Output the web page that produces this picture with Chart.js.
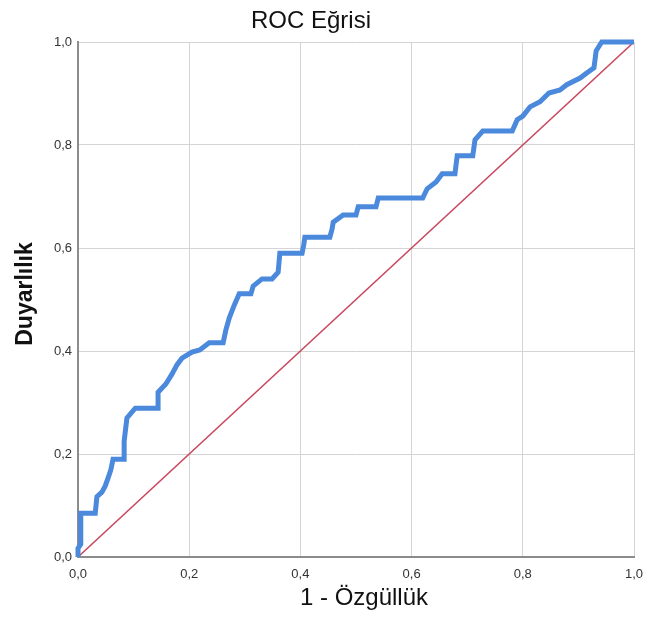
<!DOCTYPE html>
<html>
<head>
<meta charset="utf-8">
<script src="https://cdn.jsdelivr.net/npm/chart.js@4.4.1/dist/chart.umd.min.js"></script>
<style>
  html, body { margin: 0; padding: 0; background: #ffffff; }
  #wrap { width: 649px; height: 619px; }
</style>
</head>
<body>
<div id="wrap"><canvas id="roc" width="649" height="619"></canvas></div>
<script>
// ROC curve vertices: false positive rate (1 - specificity) and sensitivity
const fpr = [0, 0, 0.005, 0.005, 0.031, 0.034, 0.043, 0.049, 0.054, 0.059, 0.063, 0.083, 0.083, 0.088,
  0.103, 0.144, 0.144, 0.158, 0.169, 0.178, 0.187, 0.205, 0.219, 0.236, 0.261, 0.266, 0.272, 0.281,
  0.290, 0.311, 0.315, 0.331, 0.349, 0.360, 0.363, 0.403, 0.406, 0.408, 0.453, 0.457, 0.459, 0.477,
  0.500, 0.504, 0.536, 0.540, 0.620, 0.628, 0.644, 0.655, 0.678, 0.682, 0.710, 0.714, 0.728, 0.781,
  0.790, 0.800, 0.813, 0.831, 0.847, 0.867, 0.879, 0.903, 0.915, 0.928, 0.932, 0.942, 1.0];
const tpr = [0, 0.017, 0.025, 0.085, 0.085, 0.117, 0.126, 0.138, 0.153, 0.169, 0.190, 0.190, 0.225, 0.270,
  0.289, 0.289, 0.320, 0.336, 0.355, 0.373, 0.386, 0.398, 0.402, 0.416, 0.416, 0.441, 0.464, 0.489,
  0.511, 0.511, 0.526, 0.540, 0.540, 0.553, 0.590, 0.590, 0.606, 0.621, 0.621, 0.637, 0.650, 0.664,
  0.664, 0.680, 0.680, 0.697, 0.697, 0.715, 0.728, 0.744, 0.744, 0.779, 0.779, 0.810, 0.827, 0.827,
  0.849, 0.856, 0.874, 0.884, 0.901, 0.907, 0.917, 0.930, 0.940, 0.950, 0.983, 1.0, 1.0];
// Reference line (chance)
const refX = [0, 1];
const refY = [0, 1];
const tickValues = [0, 0.2, 0.4, 0.6, 0.8, 1.0];

const chartTitle = 'ROC Eğrisi';
const xTitle = '1 - Özgüllük';
const yTitle = 'Duyarlılık';

const curvePts = fpr.map((v, i) => ({ x: v, y: tpr[i] }));
const refPts = refX.map((v, i) => ({ x: v, y: refY[i] }));

const fmt = v => Number(v).toFixed(1).replace('.', ',');

const titlesPlugin = {
  id: 'titles',
  afterDraw(chart) {
    const { ctx, chartArea } = chart;
    ctx.save();
    ctx.fillStyle = '#111111';
    ctx.textAlign = 'center';
    ctx.textBaseline = 'middle';
    ctx.font = '24px "Liberation Sans", Arial, sans-serif';
    ctx.fillText(chartTitle, 311, 21);
    ctx.fillText(xTitle, (chartArea.left + chartArea.right) / 2 + 8, 598);
    ctx.translate(26, 294);
    ctx.rotate(-Math.PI / 2);
    ctx.font = 'bold 23px "Liberation Sans", Arial, sans-serif';
    ctx.fillText(yTitle, 0, 0);
    ctx.restore();
  }
};

new Chart(document.getElementById('roc'), {
  type: 'line',
  data: {
    datasets: [
      {
        data: curvePts,
        borderColor: '#4B89DC',
        borderWidth: 5,
        pointRadius: 0,
        tension: 0,
        clip: false,
        order: 1
      },
      {
        data: refPts,
        borderColor: '#C9485F',
        borderWidth: 1.5,
        pointRadius: 0,
        tension: 0,
        order: 2
      }
    ]
  },
  options: {
    responsive: false,
    animation: false,
    layout: { padding: { left: 0, right: 15, top: 42, bottom: 0 } },
    plugins: {
      legend: { display: false },
      tooltip: { enabled: false },
      title: { display: false }
    },
    scales: {
      x: {
        type: 'linear',
        min: 0,
        max: 1,
        afterFit(scale) {
          scale.height = 62;
          scale.paddingLeft = 0;
          scale.paddingRight = 0;
        },
        afterBuildTicks(scale) { scale.ticks = tickValues.map(v => ({ value: v })); },
        ticks: {
          callback: v => fmt(v),
          color: '#333333',
          font: { family: '"Liberation Sans", Arial, sans-serif', size: 13 },
          padding: 10,
          maxRotation: 0
        },
        grid: { color: '#d4d4d4', lineWidth: 1, drawTicks: false },
        border: { color: '#8c8c8c', width: 2 }
      },
      y: {
        type: 'linear',
        min: 0,
        max: 1,
        afterFit(scale) {
          scale.width = 78;
          scale.paddingTop = 0;
          scale.paddingBottom = 0;
        },
        afterBuildTicks(scale) { scale.ticks = tickValues.map(v => ({ value: v })); },
        ticks: {
          callback: v => fmt(v),
          color: '#333333',
          font: { family: '"Liberation Sans", Arial, sans-serif', size: 13 },
          padding: 6
        },
        grid: { color: '#d4d4d4', lineWidth: 1, drawTicks: false },
        border: { color: '#8c8c8c', width: 2 }
      }
    }
  },
  plugins: [titlesPlugin]
});
</script>
</body>
</html>
